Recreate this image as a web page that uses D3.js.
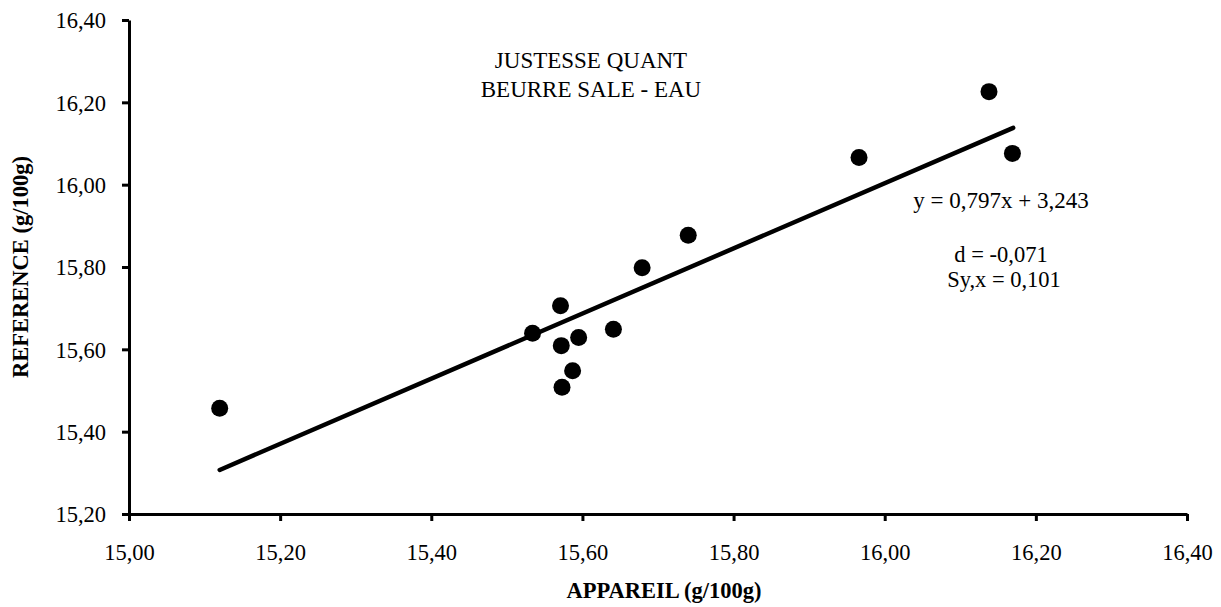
<!DOCTYPE html>
<html>
<head>
<meta charset="utf-8">
<script src="https://cdn.jsdelivr.net/npm/d3@7"></script>
<style>
  body { margin: 0; background: #fff; }
  text { font-family: "Liberation Serif", "Times New Roman", serif; fill: #000; }
</style>
</head>
<body>
<svg id="chart" width="1221" height="607"></svg>
<script>
var width = 1221, height = 607

// points
var appareil  = [15.120, 15.534, 15.571, 15.572, 15.595, 15.587, 15.573, 15.641, 15.679, 15.740, 15.966, 16.138, 16.169]
var reference = [15.457, 15.639, 15.706, 15.609, 15.629, 15.548, 15.508, 15.649, 15.798, 15.877, 16.066, 16.226, 16.076]
// trend line ends
var trendX = [15.12, 16.17]
var trendY = [15.307, 16.138]
var xTicks = [15.0, 15.2, 15.4, 15.6, 15.8, 16.0, 16.2, 16.4]
var yTicks = [15.2, 15.4, 15.6, 15.8, 16.0, 16.2, 16.4]

var fmt = d => d.toFixed(2).replace(".", ",")

var svg = d3.select("svg#chart")

var x = d3.scaleLinear().domain([15.0, 16.4]).range([129, 1187])
var y = d3.scaleLinear().domain([15.2, 16.4]).range([514, 20])

// axes
var xAxis = svg.append("g")
    .attr("transform", "translate(0," + y(15.2) + ")")
    .call(d3.axisBottom(x).tickValues(xTicks).tickFormat(fmt).tickSizeInner(7).tickSizeOuter(0).tickPadding(0))
var yAxis = svg.append("g")
    .attr("transform", "translate(" + x(15.0) + ",0)")
    .call(d3.axisLeft(y).tickValues(yTicks).tickFormat(fmt).tickSizeInner(7).tickSizeOuter(0).tickPadding(16))

svg.selectAll(".domain").attr("stroke", "#000").attr("stroke-width", 3)
svg.selectAll(".tick line").attr("stroke", "#000").attr("stroke-width", 3)
svg.selectAll(".tick text")
    .attr("font-family", "Liberation Serif")
    .attr("font-size", 22.5)
    .attr("fill", "#000")
xAxis.selectAll(".tick text").attr("dy", null).attr("y", 46)
yAxis.selectAll(".tick text").attr("dy", "0.35em")

// trend line
svg.append("line")
    .attr("x1", x(trendX[0])).attr("y1", y(trendY[0]))
    .attr("x2", x(trendX[1])).attr("y2", y(trendY[1]))
    .attr("stroke", "#000")
    .attr("stroke-width", 4.5)
    .attr("stroke-linecap", "round")

// points
svg.append("g")
  .selectAll("circle")
  .data(appareil.map((d, i) => [d, reference[i]]))
  .enter().append("circle")
    .attr("cx", d => x(d[0]))
    .attr("cy", d => y(d[1]))
    .attr("r", 8.5)
    .attr("fill", "#000")

// titles
svg.append("text").attr("x", 591).attr("y", 68).attr("text-anchor", "middle")
    .attr("font-size", 23).text("JUSTESSE QUANT")
svg.append("text").attr("x", 591).attr("y", 97).attr("text-anchor", "middle")
    .attr("font-size", 23).text("BEURRE SALE - EAU")

svg.append("text").attr("x", 1001).attr("y", 208).attr("text-anchor", "middle")
    .attr("font-size", 23).text("y = 0,797x + 3,243")
svg.append("text").attr("x", 1001).attr("y", 262).attr("text-anchor", "middle")
    .attr("font-size", 22.5).text("d = -0,071")
svg.append("text").attr("x", 1004).attr("y", 287).attr("text-anchor", "middle")
    .attr("font-size", 22.5).text("Sy,x = 0,101")

svg.append("text").attr("x", 664).attr("y", 598).attr("text-anchor", "middle")
    .attr("font-size", 22.5).attr("font-weight", "bold").text("APPAREIL (g/100g)")
svg.append("text")
    .attr("transform", "translate(28,267) rotate(-90)")
    .attr("text-anchor", "middle")
    .attr("font-size", 22.5).attr("font-weight", "bold").text("REFERENCE (g/100g)")
</script>
</body>
</html>
